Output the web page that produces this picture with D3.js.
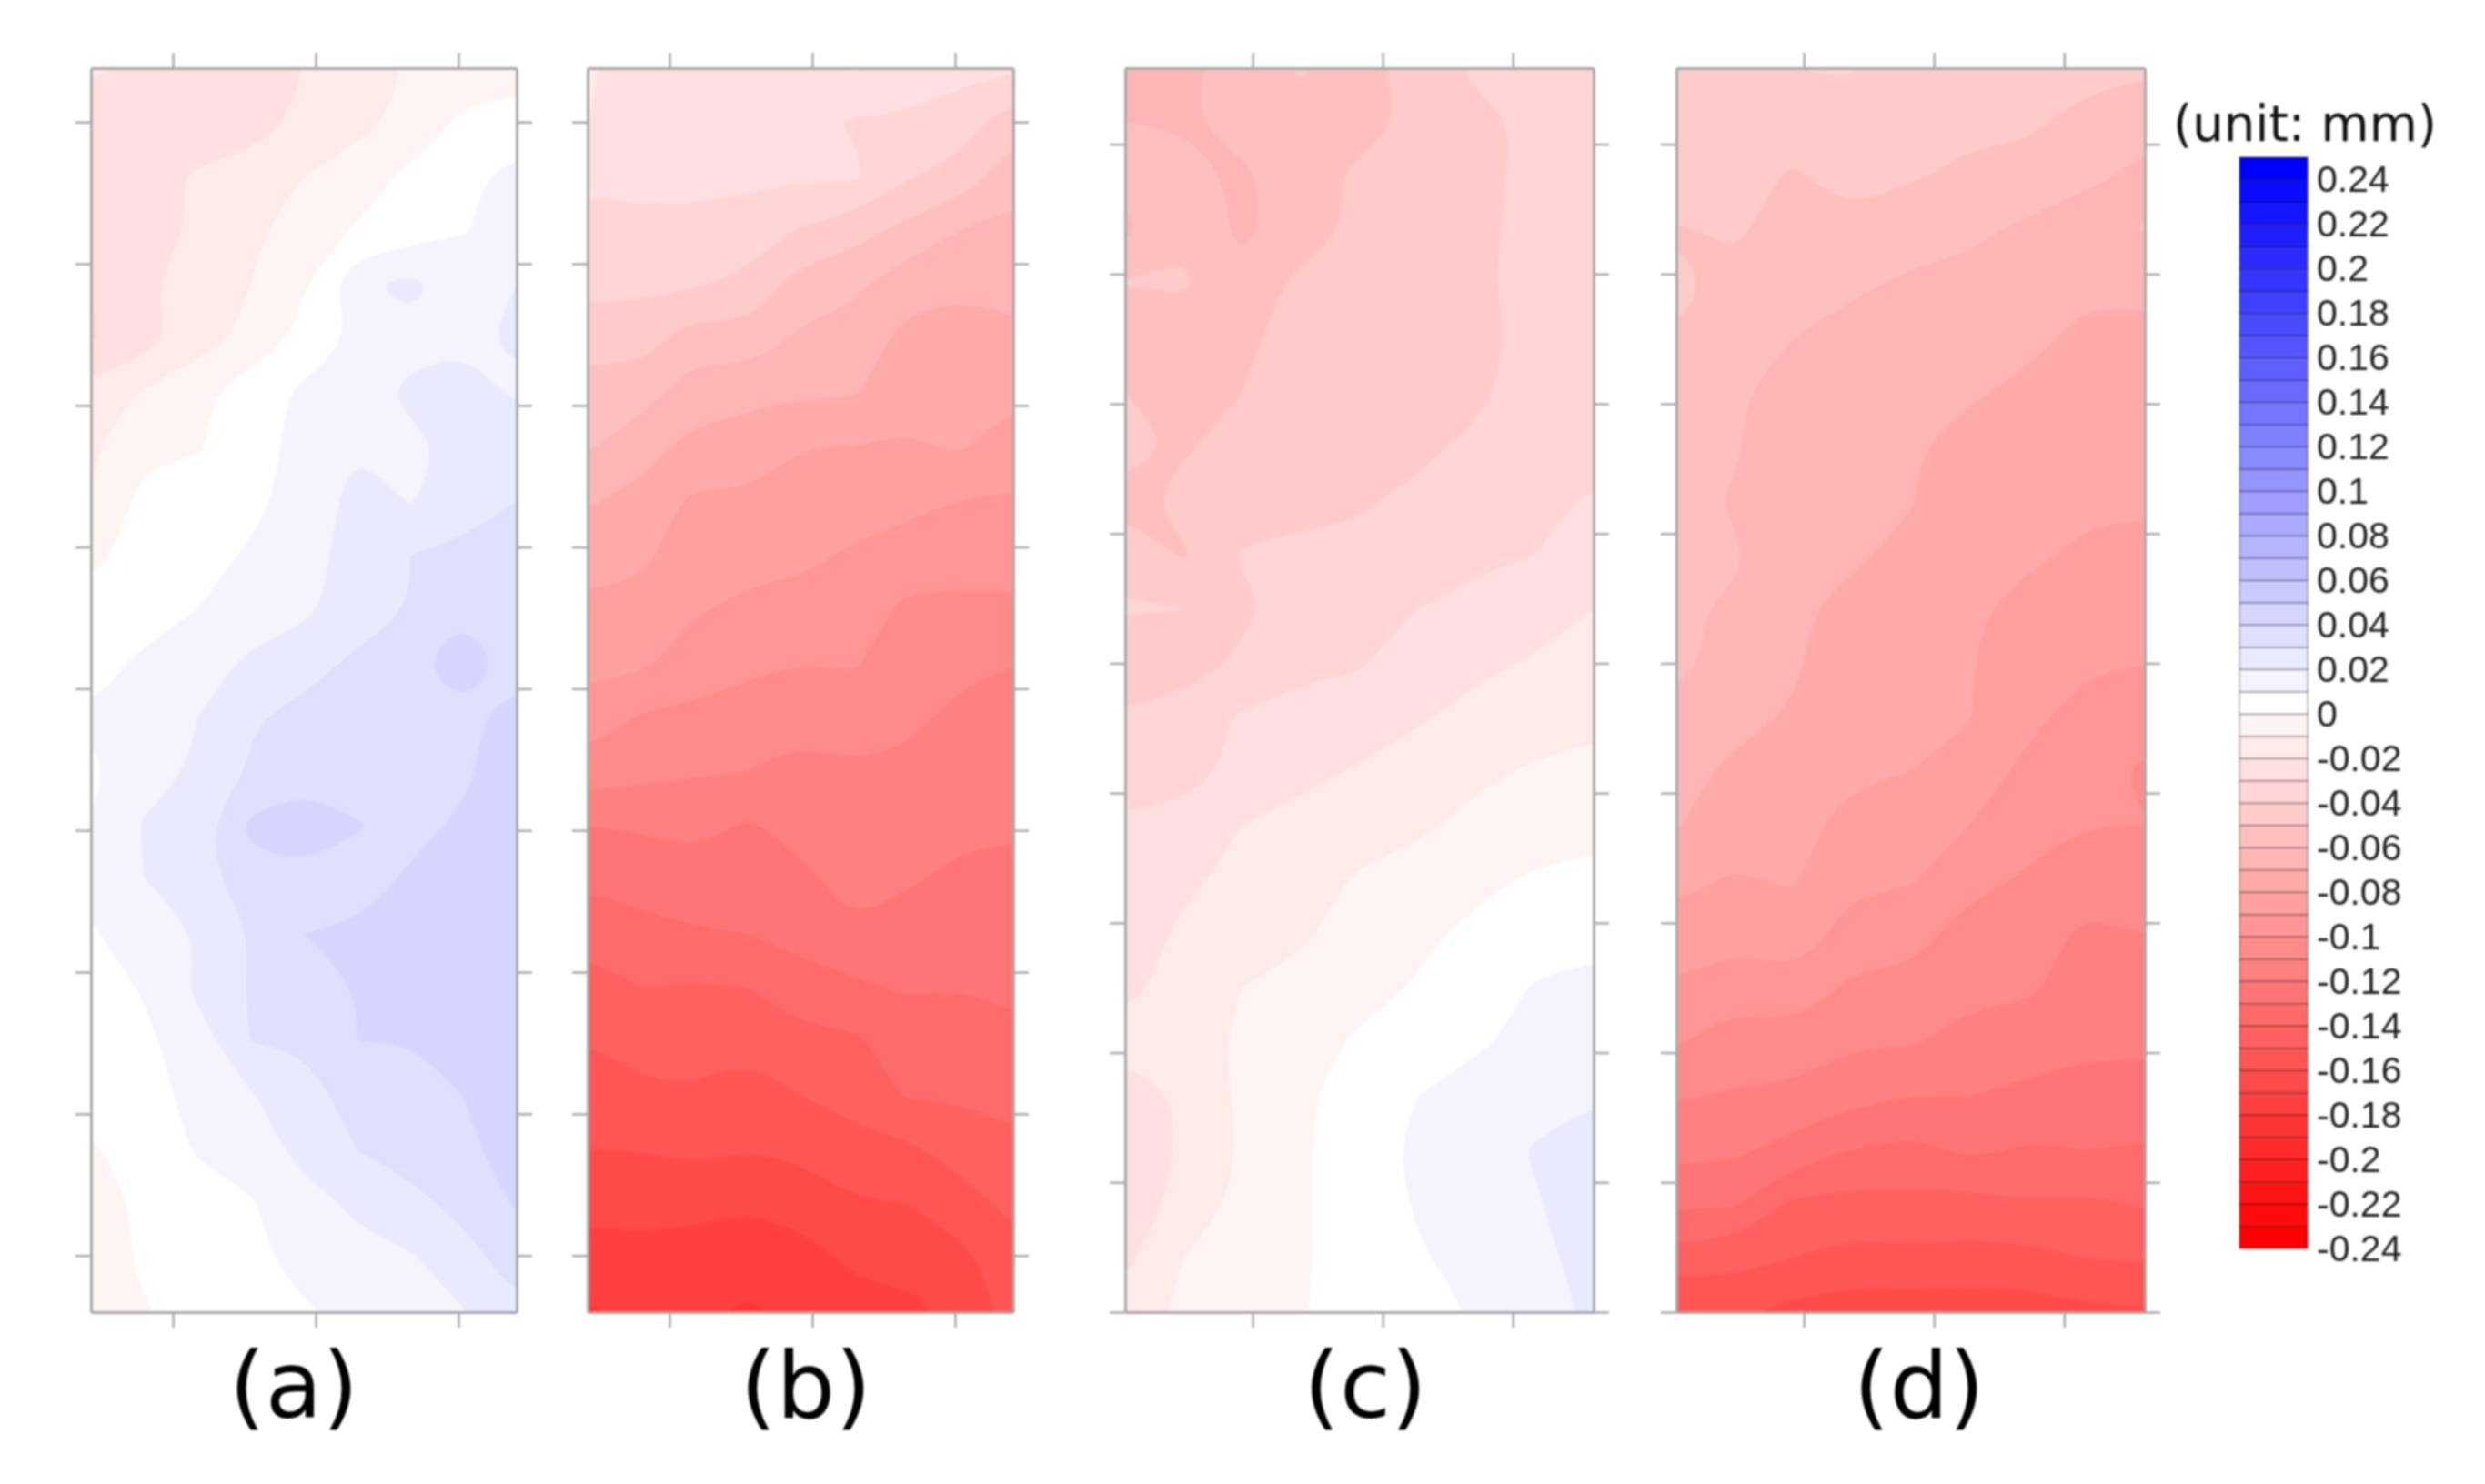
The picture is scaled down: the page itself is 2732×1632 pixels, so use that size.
<!DOCTYPE html>
<html>
<head>
<meta charset="utf-8">
<script src="https://cdnjs.cloudflare.com/ajax/libs/d3/7.8.5/d3.min.js"></script>
<style>
  html, body { margin: 0; padding: 0; background: #fff; }
  svg { display: block; filter: blur(0.8px); }
</style>
</head>
<body>
<svg id="chart" width="2732" height="1632"></svg>
<script>
// displacement, in units of 0.01 mm (top row first)
const mapA = [
  [-1.8,-2.2,-2.6,-2.6,-2.0,-1.6,-0.9,-0.6,-0.4],
  [-2.6,-2.8,-3.0,-2.4,-1.8,-1.3,-0.7,0.2,0.4],
  [-2.8,-2.5,-1.8,-1.6,-1.0,-0.5,0.2,0.8,1.3],
  [-2.7,-2.4,-1.9,-1.2,-0.5,0.1,0.5,0.95,1.3],
  [-3.0,-2.1,-1.6,-1.0,-0.1,1.85,2.3,1.5,2.0],
  [-3.1,-2.4,-1.5,-0.7,0.3,1.1,1.7,1.9,2.1],
  [-1.7,-0.9,-0.2,0.5,1.2,1.6,2.2,2.3,1.9],
  [-1.1,-0.2,-0.1,0.5,1.4,1.95,1.8,2.2,2.5],
  [-1.0,0.3,0.5,0.8,1.3,2.4,1.95,2.4,3.0],
  [-0.2,0.3,0.7,1.1,1.6,2.4,3.0,3.3,3.5],
  [0.3,0.5,1.0,1.4,1.8,2.5,3.0,3.9,3.7],
  [0.6,1.2,1.5,2.2,2.6,3.2,3.9,4.4,3.8],
  [1.1,1.5,2.0,2.9,3.3,3.6,3.7,3.9,4.2],
  [0.8,1.6,2.1,3.1,3.7,3.6,3.7,3.9,4.3],
  [1.0,2.1,2.6,4.2,4.5,4.05,3.8,4.1,4.4],
  [1.2,2.0,2.5,3.7,3.8,3.7,4.1,4.4,4.5],
  [0.9,1.6,2.0,3.0,4.0,4.1,4.0,4.4,4.6],
  [0.4,1.1,2.2,3.1,3.7,4.0,4.4,4.5,4.6],
  [0.3,0.8,1.5,3.0,3.1,4.0,4.0,4.4,4.6],
  [0.3,0.5,1.4,1.9,2.7,3.3,3.7,4.0,4.5],
  [-0.1,0.4,1.1,1.5,2.3,3.0,3.4,3.8,4.4],
  [-0.6,0.2,0.5,0.9,1.6,2.2,2.7,3.3,4.1],
  [-0.6,0.2,0.5,0.8,1.3,1.7,1.9,2.6,3.5],
  [-0.5,-0.1,0.4,0.6,0.9,1.2,1.6,1.95,2.8]
]
const mapB = [
  [-1.9,-2.3,-2.1,-2.4,-2.5,-1.9,-2.2,-2.7,-2.9],
  [-2.0,-2.5,-2.4,-2.6,-2.7,-3.1,-3.2,-3.5,-4.6],
  [-2.8,-2.8,-2.8,-2.8,-2.9,-2.8,-3.9,-4.4,-5.6],
  [-3.3,-3.2,-3.2,-3.4,-4.1,-4.6,-5.3,-6.0,-6.3],
  [-3.7,-3.8,-3.9,-4.3,-5.4,-5.8,-6.6,-6.9,-6.7],
  [-4.6,-4.5,-5.6,-5.3,-6.2,-6.4,-7.3,-7.3,-7.2],
  [-5.4,-5.6,-6.5,-6.7,-6.9,-6.9,-7.7,-7.6,-7.8],
  [-5.9,-6.6,-7.3,-7.5,-8.0,-8.0,-8.1,-7.9,-8.5],
  [-6.9,-7.3,-8.2,-8.1,-8.4,-8.6,-8.7,-9.0,-9.1],
  [-7.6,-7.8,-8.5,-8.7,-8.8,-9.1,-9.5,-9.6,-9.6],
  [-8.2,-8.3,-8.9,-9.2,-9.3,-9.5,-10.2,-10.2,-10.2],
  [-8.7,-8.8,-9.5,-9.8,-10.0,-9.9,-10.5,-10.8,-11.0],
  [-9.4,-10.1,-10.2,-10.4,-10.7,-10.5,-10.8,-11.2,-11.3],
  [-10.4,-10.7,-10.9,-11.0,-11.3,-11.1,-11.2,-11.5,-11.6],
  [-12.0,-11.9,-11.7,-12.1,-11.7,-11.4,-11.6,-11.8,-11.9],
  [-12.8,-12.6,-12.4,-12.5,-12.2,-11.7,-11.9,-12.2,-12.2],
  [-13.7,-13.3,-13.1,-13.0,-12.7,-12.1,-12.4,-12.6,-12.5],
  [-14.4,-14.0,-14.1,-14.0,-13.4,-13.2,-12.9,-13.0,-12.8],
  [-15.0,-14.6,-14.6,-14.8,-14.3,-14.2,-13.4,-13.4,-13.2],
  [-15.5,-15.2,-15.1,-15.4,-15.0,-14.7,-13.9,-13.9,-13.7],
  [-16.0,-16.0,-15.7,-16.0,-15.8,-15.3,-15.2,-14.6,-14.2],
  [-16.7,-16.7,-16.7,-16.9,-16.6,-16.1,-16.0,-15.4,-14.8],
  [-17.4,-17.3,-17.4,-17.7,-17.4,-16.8,-16.6,-16.3,-15.2],
  [-18.1,-17.9,-17.9,-18.1,-17.9,-17.4,-17.3,-16.8,-15.7]
]
const mapC = [
  [-6.4,-6.3,-5.5,-4.9,-5.3,-4.6,-3.8,-3.5,-3.4],
  [-6.0,-6.1,-5.6,-5.3,-5.4,-4.8,-4.3,-3.8,-3.5],
  [-5.8,-5.5,-6.2,-5.4,-4.8,-4.4,-4.3,-3.7,-3.6],
  [-6.2,-5.1,-6.3,-5.3,-4.9,-4.4,-4.3,-3.6,-3.5],
  [-5.0,-4.9,-5.5,-4.8,-5.0,-4.3,-4.2,-3.6,-3.5],
  [-5.8,-5.4,-5.1,-4.8,-5.0,-4.5,-4.4,-3.6,-3.5],
  [-5.0,-5.5,-5.0,-4.6,-4.8,-4.5,-4.2,-3.5,-3.4],
  [-4.6,-5.1,-4.6,-4.6,-4.6,-4.2,-3.8,-3.5,-3.3],
  [-5.3,-4.7,-4.5,-4.4,-4.1,-3.8,-3.6,-3.2,-2.9],
  [-4.3,-5.1,-3.9,-3.7,-3.8,-3.6,-3.3,-3.0,-2.6],
  [-3.9,-4.0,-4.2,-3.6,-3.5,-3.0,-2.5,-2.5,-2.0],
  [-4.6,-4.6,-3.8,-3.2,-3.1,-2.3,-2.2,-1.9,-1.7],
  [-3.9,-3.4,-2.9,-2.7,-2.5,-2.1,-1.7,-1.4,-1.3],
  [-3.9,-3.6,-2.6,-2.3,-1.9,-1.6,-1.2,-0.9,-0.6],
  [-2.7,-2.4,-2.0,-1.6,-1.4,-1.2,-0.7,-0.5,-0.3],
  [-2.9,-2.2,-1.7,-1.4,-0.9,-0.5,-0.2,0.1,0.3],
  [-2.6,-1.8,-1.5,-1.1,-0.7,-0.2,0.2,0.4,0.8],
  [-2.2,-1.7,-1.0,-0.8,-0.5,0.1,0.4,1.1,1.2],
  [-1.7,-1.5,-0.8,-0.6,0.2,0.5,0.9,1.2,1.5],
  [-2.5,-1.9,-0.8,-0.1,0.3,1.0,1.3,1.5,1.9],
  [-2.5,-1.9,-0.9,-0.1,0.4,1.3,1.5,2.1,2.6],
  [-2.4,-1.8,-0.7,-0.1,0.4,1.1,1.5,1.9,2.7],
  [-2.2,-1.0,-0.5,-0.1,0.4,0.9,1.4,1.7,2.4],
  [-1.7,-0.7,-0.4,-0.05,0.3,0.7,1.05,1.5,2.2]
]
const mapD = [
  [-4.3,-4.0,-4.0,-3.9,-4.6,-4.8,-4.8,-4.6,-4.8],
  [-4.5,-4.5,-4.6,-4.5,-4.7,-4.9,-4.8,-5.4,-5.9],
  [-4.7,-4.7,-5.1,-4.7,-4.95,-5.1,-5.4,-5.9,-6.1],
  [-5.05,-4.9,-5.3,-5.2,-5.5,-5.8,-6.2,-6.3,-5.95],
  [-4.8,-5.2,-5.6,-5.8,-6.2,-6.3,-6.5,-6.8,-6.8],
  [-5.05,-5.6,-6.0,-6.5,-6.6,-6.6,-6.7,-7.3,-7.2],
  [-5.3,-5.9,-6.4,-6.7,-6.8,-6.85,-7.3,-7.5,-7.4],
  [-5.5,-5.9,-6.7,-6.7,-6.9,-7.4,-7.4,-7.7,-7.6],
  [-5.7,-6.1,-6.7,-6.8,-6.95,-7.6,-7.6,-7.9,-7.9],
  [-5.9,-5.9,-6.8,-6.9,-7.2,-7.8,-7.9,-8.1,-8.2],
  [-5.9,-6.1,-6.9,-7.2,-7.4,-7.9,-8.2,-8.5,-8.6],
  [-5.8,-6.3,-6.9,-7.4,-7.6,-7.95,-8.5,-8.9,-9.0],
  [-6.2,-6.7,-7.1,-7.6,-7.8,-7.95,-8.8,-9.3,-9.5],
  [-6.7,-7.2,-7.4,-7.8,-8.0,-8.5,-9.2,-9.6,-10.2],
  [-6.95,-7.4,-7.6,-8.4,-8.6,-9.0,-9.7,-10.0,-10.0],
  [-7.7,-8.1,-7.9,-8.8,-8.9,-9.7,-10.1,-10.5,-10.4],
  [-8.4,-8.7,-8.4,-9.4,-9.6,-10.4,-10.5,-11.2,-11.0],
  [-9.1,-9.6,-9.3,-10.2,-10.3,-10.8,-10.9,-11.3,-11.3],
  [-9.9,-10.5,-10.4,-10.9,-10.9,-11.3,-11.3,-11.8,-11.8],
  [-10.9,-11.1,-11.2,-11.7,-12.0,-12.0,-12.3,-12.4,-12.4],
  [-11.7,-11.8,-12.4,-13.0,-13.3,-12.8,-13.1,-13.0,-13.1],
  [-12.8,-12.9,-14.2,-14.3,-14.3,-14.3,-14.1,-14.2,-13.9],
  [-14.5,-14.6,-15.0,-15.4,-15.2,-15.4,-15.3,-15.0,-14.9],
  [-16.0,-15.9,-16.3,-16.5,-16.5,-16.5,-16.5,-16.2,-16.1]
]
const panelNames = ['(a)', '(b)', '(c)', '(d)']
// unlabelled tick marks of the maps
const xTicksAB = [50, 100, 150]
const yTicksAB = [20, 70, 120, 170, 220, 270, 320, 370, 420]
const xTicksCD = [50, 100, 150]
const yTicksCD = [0, 50, 100, 150, 200, 250, 300, 350, 400, 450]
const legendTicks = [0.24, 0.22, 0.2, 0.18, 0.16, 0.14, 0.12, 0.1, 0.08, 0.06, 0.04, 0.02, 0,
  -0.02, -0.04, -0.06, -0.08, -0.1, -0.12, -0.14, -0.16, -0.18, -0.2, -0.22, -0.24]

const svg = d3.select('#chart')

// colour of the band [k, k + 1) in 0.01 mm
const bandColor = d3.scaleLinear()
  .domain([-24, 0, 24])
  .range(['#ff0000', '#ffffff', '#0000ff'])
  .clamp(true)
const thresholds = d3.range(-25, 25)

const panels = [
  { grid: mapA, left: 100, right: 568, xDomain: [21.3, 170.4], yDomain: [0, 439], xTicks: xTicksAB, yTicks: yTicksAB, labelX: 323 },
  { grid: mapB, left: 646, right: 1114, xDomain: [21.3, 170.4], yDomain: [0, 439], xTicks: xTicksAB, yTicks: yTicksAB, labelX: 886 },
  { grid: mapC, left: 1237, right: 1752, xDomain: [1, 181], yDomain: [0, 479.3], xTicks: xTicksCD, yTicks: yTicksCD, labelX: 1501 },
  { grid: mapD, left: 1843, right: 2358, xDomain: [1, 181], yDomain: [0, 479.3], xTicks: xTicksCD, yTicks: yTicksCD, labelX: 2110 }
]
const plotTop = 75
const plotBottom = 1443
const tickLen = 17
const frameColor = '#a9a9a9'

// repeat the border values so the bands run past the frame and get clipped there
function padGrid(grid) {
  const rows = [grid[0], ...grid, grid[grid.length - 1]]
  return rows.map(r => [r[0], ...r, r[r.length - 1]])
}

panels.forEach((p, idx) => {
  const w = p.right - p.left
  const h = plotBottom - plotTop
  const g = svg.append('g').attr('transform', `translate(${p.left},${plotTop})`)

  svg.append('clipPath').attr('id', `clip${idx}`)
    .append('rect').attr('width', w).attr('height', h)

  const padded = padGrid(p.grid)
  const ny = padded.length
  const nx = padded[0].length
  const contours = d3.contours().size([nx, ny]).thresholds(thresholds)(padded.flat())

  // grid coordinates -> pixels, node i sits at i + 0.5 in d3.contours
  const gx = d3.scaleLinear().domain([1.5, nx - 1.5]).range([0, w])
  const gy = d3.scaleLinear().domain([1.5, ny - 1.5]).range([0, h])
  const ring = d3.line()
    .x(d => gx(d[0]))
    .y(d => gy(d[1]))
    .curve(d3.curveBasisClosed)

  g.append('g')
    .attr('clip-path', `url(#clip${idx})`)
    .selectAll('path')
    .data(contours)
    .join('path')
    .attr('fill', d => bandColor(d.value))
    .attr('fill-rule', 'evenodd')
    .attr('d', d => d.coordinates.map(poly => poly.map(r => ring(r.slice(0, -1))).join('')).join(''))

  // frame and outward ticks on all four sides
  const x = d3.scaleLinear().domain(p.xDomain).range([0, w])
  const y = d3.scaleLinear().domain(p.yDomain).range([h, 0])
  const axes = [
    [d3.axisTop(x).tickValues(p.xTicks), 0, 0],
    [d3.axisBottom(x).tickValues(p.xTicks), 0, h],
    [d3.axisLeft(y).tickValues(p.yTicks), 0, 0],
    [d3.axisRight(y).tickValues(p.yTicks), w, 0]
  ]
  axes.forEach(([axis, tx, ty]) => {
    const a = g.append('g')
      .attr('transform', `translate(${tx},${ty})`)
      .call(axis.tickSize(tickLen).tickSizeOuter(0).tickFormat(''))
    a.select('.domain').attr('stroke', frameColor).attr('stroke-width', 3)
    a.selectAll('.tick line').attr('stroke', frameColor).attr('stroke-width', 2.5)
  })

  svg.append('text')
    .attr('x', p.labelX)
    .attr('y', 1559)
    .attr('text-anchor', 'middle')
    .attr('font-family', 'DejaVu Sans')
    .attr('font-size', 102)
    .attr('fill', '#000')
    .text(panelNames[idx])
})

// colour key
const legendY = d3.scaleLinear().domain([-0.24, 0.25]).range([1373, 173])
const legendLeft = 2462
const legendRight = 2537
const legend = svg.append('g')

legend.selectAll('rect')
  .data(d3.range(-24, 25))
  .join('rect')
  .attr('x', legendLeft)
  .attr('width', legendRight - legendLeft)
  .attr('y', k => legendY((k + 1) / 100))
  .attr('height', k => legendY(k / 100) - legendY((k + 1) / 100))
  .attr('fill', k => bandColor(k))
  .attr('stroke', '#000')
  .attr('stroke-opacity', 0.3)
  .attr('stroke-width', 1.5)

const legendAxis = d3.axisRight(legendY)
  .tickValues(legendTicks)
  .tickSize(0)
  .tickPadding(10)
  .tickFormat(d => String(d))
legend.append('g')
  .attr('transform', `translate(${legendRight},0)`)
  .call(legendAxis)
  .call(a => a.select('.domain').remove())
  .call(a => a.selectAll('text')
    .attr('font-family', 'Liberation Sans')
    .attr('font-size', 41)
    .attr('fill', '#222'))

svg.append('text')
  .attr('x', 2389)
  .attr('y', 155)
  .attr('font-family', 'DejaVu Sans')
  .attr('font-size', 54.5)
  .attr('fill', '#111')
  .text('(unit: mm)')
</script>
</body>
</html>
